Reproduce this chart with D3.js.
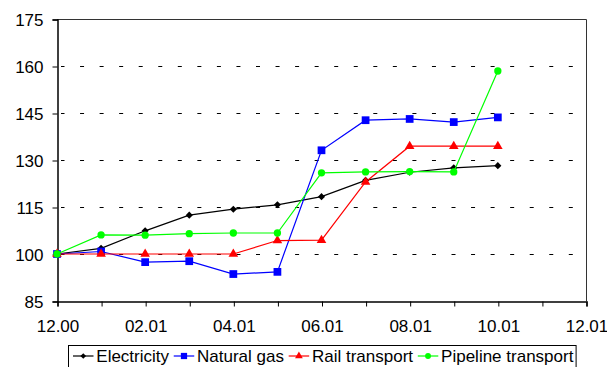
<!DOCTYPE html>
<html>
<head>
<meta charset="utf-8">
<script src="https://cdn.jsdelivr.net/npm/d3@7/dist/d3.min.js"></script>
<style>
  html, body { margin: 0; padding: 0; background: #fff; }
  svg { display: block; font-family: "Liberation Sans", Arial, sans-serif; }
</style>
</head>
<body>
<svg id="chart" width="607" height="367"></svg>
<script>
// Monthly index values (December 2000 = 100)
const months = ["12.00", "01.01", "02.01", "03.01", "04.01", "05.01", "06.01", "07.01", "08.01", "09.01", "10.01"];
const xTickLabels = ["12.00", "", "02.01", "", "04.01", "", "06.01", "", "08.01", "", "10.01", "", "12.01"];
const yTicks = [85, 100, 115, 130, 145, 160, 175];

const electricity = [100, 101.8, 107.4, 112.4, 114.3, 115.7, 118.3, 123.5, 126.1, 127.5, 128.2];
const naturalGas  = [100, 100.8, 97.4, 97.7, 93.6, 94.3, 133.1, 142.7, 143.1, 142.1, 143.6];
const railTransport = [100, 100, 100, 100, 100, 104.3, 104.4, 123, 134.4, 134.4, 134.4];
const pipelineTransport = [100, 106.1, 106, 106.5, 106.7, 106.7, 125.9, 126.2, 126.3, 126.2, 158.4];

const seriesNames = ["Electricity", "Natural gas", "Rail transport", "Pipeline transport"];

const series = [
  { name: seriesNames[0], values: electricity, color: "#000000", symbol: d3.symbolDiamond2, size: 32 },
  { name: seriesNames[1], values: naturalGas, color: "#0000ff", symbol: d3.symbolSquare, size: 60 },
  { name: seriesNames[2], values: railTransport, color: "#ff0000", symbol: d3.symbolTriangle, size: 40 },
  { name: seriesNames[3], values: pipelineTransport, color: "#00ff00", symbol: d3.symbolCircle, size: 42 }
];

const svg = d3.select("#chart");
const fontSize = 17;
const plot = { left: 57, right: 586, top: 19, bottom: 301 };

const x = d3.scaleLinear().domain([0, xTickLabels.length - 1]).range([plot.left, plot.right]);
const y = d3.scaleLinear().domain([85, 175]).range([plot.bottom, plot.top]);

// dashed horizontal gridlines
svg.append("g")
  .selectAll("line")
  .data(yTicks.filter(v => v > 85))
  .join("line")
  .attr("x1", plot.left + 4)
  .attr("x2", plot.right)
  .attr("y1", d => Math.round(y(d)) + 0.5)
  .attr("y2", d => Math.round(y(d)) + 0.5)
  .attr("stroke", "#000")
  .attr("stroke-width", 1.2)
  .attr("stroke-dasharray", "4,15.55")
  .attr("stroke-dashoffset", 0.5);

// plot frame: top and right edges
svg.append("path")
  .attr("d", `M${plot.left},${plot.top + 0.5}H${plot.right + 0.5}V${plot.bottom}`)
  .attr("fill", "none")
  .attr("stroke", "#333")
  .attr("stroke-width", 1);

// y axis
const yAxis = d3.axisLeft(y).tickValues(yTicks).tickSize(5).tickPadding(9).tickFormat(d3.format("d"));
const gy = svg.append("g")
  .attr("transform", `translate(${plot.left + 0.5},0.5)`)
  .call(yAxis);
gy.select(".domain").attr("stroke", "#000").attr("stroke-width", 1.5);
gy.selectAll(".tick line").attr("stroke", "#000");
gy.selectAll(".tick text")
  .attr("fill", "#000")
  .attr("font-size", fontSize)
  .attr("font-family", "Liberation Sans, Arial, sans-serif")
  .attr("dy", "0.33em");

// x axis
const xAxis = d3.axisBottom(x)
  .tickValues(d3.range(xTickLabels.length))
  .tickSize(5).tickPadding(13)
  .tickFormat(i => xTickLabels[i]);
const gx = svg.append("g")
  .attr("transform", `translate(0.5,${plot.bottom + 0.5})`)
  .call(xAxis);
gx.select(".domain").attr("stroke", "#000").attr("stroke-width", 1.5);
gx.selectAll(".tick line").attr("stroke", "#000");
gx.selectAll(".tick text")
  .attr("fill", "#000")
  .attr("font-size", fontSize)
  .attr("font-family", "Liberation Sans, Arial, sans-serif");

// series lines and markers
const line = d3.line().x((d, i) => x(i)).y(d => y(d));
series.forEach(s => {
  const g = svg.append("g");
  g.append("path")
    .datum(s.values)
    .attr("d", line)
    .attr("fill", "none")
    .attr("stroke", s.color)
    .attr("stroke-width", 1.2);
  g.selectAll("path.marker")
    .data(s.values)
    .join("path")
    .attr("class", "marker")
    .attr("transform", (d, i) => `translate(${x(i)},${y(d)})`)
    .attr("d", d3.symbol(s.symbol, s.size))
    .attr("fill", s.color);
});

// legend
const legend = svg.append("g");
const box = legend.append("rect")
  .attr("fill", "#fff")
  .attr("stroke", "#000")
  .attr("stroke-width", 1);
let cx = 73;
const baseY = 356;
series.forEach(s => {
  const item = legend.append("g");
  item.append("line")
    .attr("x1", cx).attr("x2", cx + 20.5)
    .attr("y1", baseY).attr("y2", baseY)
    .attr("stroke", s.color).attr("stroke-width", 1.2);
  item.append("path")
    .attr("transform", `translate(${cx + 10.25},${baseY})`)
    .attr("d", d3.symbol(s.symbol, s.size * 0.65))
    .attr("fill", s.color);
  const t = item.append("text")
    .attr("x", cx + 23.3)
    .attr("y", baseY + 6)
    .attr("font-size", fontSize)
    .attr("fill", "#000")
    .text(s.name);
  cx += 23.3 + t.node().getComputedTextLength() + 4.7;
});
box.attr("x", 68.5).attr("y", 345.5).attr("width", cx - 4.7 + 2.7 - 68.5).attr("height", 30);
</script>
</body>
</html>
